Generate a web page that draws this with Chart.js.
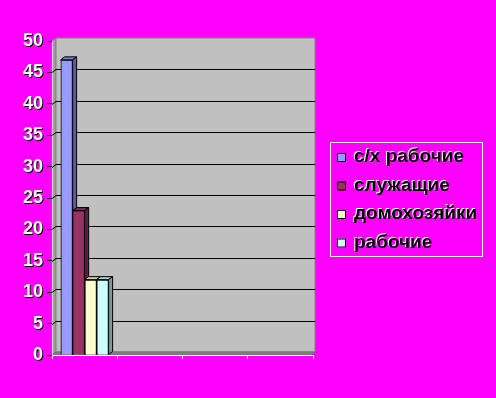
<!DOCTYPE html>
<html>
<head>
<meta charset="utf-8">
<script src="https://cdn.jsdelivr.net/npm/chart.js@4.4.0/dist/chart.umd.min.js"></script>
<style>
  html, body { margin: 0; padding: 0; background: #ff00ff; }
  canvas { display: block; }
</style>
</head>
<body>
<canvas id="chart" width="496" height="398"></canvas>
<script>
// Данные диаграммы
const categories = ['', '', '', ''];
const seriesNames = ['с/х рабочие', 'служащие', 'домохозяйки', 'рабочие'];
const seriesValues = [
    [47, null, null, null],
    [23, null, null, null],
    [12, null, null, null],
    [12, null, null, null]
];
const seriesColors = ['#9999ff', '#993366', '#ffffcc', '#ccffff'];
const yTicks = [0, 5, 10, 15, 20, 25, 30, 35, 40, 45, 50];

const DX = 4, DY = 3;
const FONT = 'bold 18px "Liberation Sans", Arial, sans-serif';
const LEGEND_FONT = 'bold 19px "Liberation Sans", Arial, sans-serif';

function shade(hex, k) {
    const n = parseInt(hex.slice(1), 16);
    const r = Math.round(((n >> 16) & 255) * k);
    const g = Math.round(((n >> 8) & 255) * k);
    const b = Math.round((n & 255) * k);
    return `rgb(${r},${g},${b})`;
}

function poly(ctx, pts, fill, stroke) {
    ctx.beginPath();
    ctx.moveTo(pts[0][0], pts[0][1]);
    for (let i = 1; i < pts.length; i++) ctx.lineTo(pts[i][0], pts[i][1]);
    ctx.closePath();
    ctx.fillStyle = fill;
    ctx.fill();
    if (stroke) {
        ctx.strokeStyle = stroke;
        ctx.lineWidth = 1;
        ctx.stroke();
    }
}

// Фон, стенки, сетка, объём столбиков, подписи и легенда
const wallsPlugin = {
    id: 'walls',
    beforeDraw(chart) {
        const ctx = chart.ctx;
        const a = chart.chartArea;
        ctx.save();
        ctx.fillStyle = '#ff00ff';
        ctx.fillRect(0, 0, chart.width, chart.height);
        // боковая стенка
        poly(ctx, [[a.left, a.top], [a.left + DX, a.top - DY], [a.left + DX, a.bottom - DY], [a.left, a.bottom]], '#a0a0a0', '#808080');
        // задняя стенка
        poly(ctx, [[a.left + DX, a.top - DY], [a.right + 2, a.top - DY], [a.right + 2, a.bottom - DY], [a.left + DX, a.bottom - DY]], '#c0c0c0', '#808080');
        // пол
        poly(ctx, [[a.left, a.bottom], [a.left + DX, a.bottom - DY], [a.right + 2, a.bottom - DY], [a.right - 2, a.bottom]], '#808080', '#707070');
        ctx.restore();
    },
    beforeDatasetsDraw(chart) {
        const ctx = chart.ctx;
        const a = chart.chartArea;
        const y = chart.scales.y;
        ctx.save();
        ctx.strokeStyle = '#000';
        ctx.lineWidth = 1;
        yTicks.forEach(v => {
            if (v === 0 || v === 50) return;
            const py = Math.round(y.getPixelForValue(v)) + 0.5;
            ctx.beginPath();
            ctx.moveTo(a.left, py);
            ctx.lineTo(a.left + DX, py - DY);
            ctx.lineTo(a.right + 2, py - DY);
            ctx.stroke();
        });
        ctx.restore();
    },
    // слева направо: передняя грань, верх, бок — правый столбик перекрывает левый
    afterDatasetsDraw(chart) {
        const ctx = chart.ctx;
        ctx.save();
        seriesValues.forEach((values, i) => {
            const meta = chart.getDatasetMeta(i);
            const color = seriesColors[i];
            meta.data.forEach((bar, j) => {
                if (values[j] == null) return;
                bar.draw(ctx, chart.chartArea);
                const l = bar.x - bar.width / 2;
                const r = bar.x + bar.width / 2;
                poly(ctx, [[l, bar.y], [l + DX, bar.y - DY], [r + DX, bar.y - DY], [r, bar.y]], shade(color, 0.8), '#000');
                poly(ctx, [[r, bar.y], [r + DX, bar.y - DY], [r + DX, bar.base - DY], [r, bar.base]], shade(color, 0.6), '#000');
            });
        });
        ctx.restore();
    },
    afterDraw(chart) {
        const ctx = chart.ctx;
        const y = chart.scales.y;
        ctx.save();
        ctx.font = FONT;
        ctx.textAlign = 'right';
        ctx.textBaseline = 'middle';
        // подписи оси Y: белые с чёрной тенью
        yTicks.forEach(v => {
            const py = y.getPixelForValue(v);
            ctx.fillStyle = '#000';
            ctx.fillText(String(v), 44, py + 1);
            ctx.fillStyle = '#fff';
            ctx.fillText(String(v), 43, py);
        });
        // легенда
        ctx.strokeStyle = '#fff';
        ctx.lineWidth = 1;
        ctx.strokeRect(330.5, 142.5, 152, 114);
        ctx.font = LEGEND_FONT;
        ctx.textAlign = 'left';
        seriesNames.forEach((name, i) => {
            const cy = 157 + i * 28.5;
            ctx.fillStyle = seriesColors[i];
            ctx.fillRect(337, cy - 4, 9, 9);
            ctx.strokeStyle = '#000';
            ctx.strokeRect(337.5, cy - 3.5, 8, 8);
            ctx.fillStyle = '#fff';
            ctx.fillText(name, 353, cy - 1);
            ctx.fillStyle = '#000';
            ctx.fillText(name, 354, cy);
        });
        ctx.restore();
    }
};

new Chart(document.getElementById('chart'), {
    type: 'bar',
    data: {
        labels: categories,
        datasets: seriesNames.map((name, i) => ({
            label: name,
            data: seriesValues[i],
            backgroundColor: seriesColors[i],
            borderColor: '#000',
            borderWidth: 1,
            barPercentage: 1,
            categoryPercentage: 0.735
        }))
    },
    options: {
        responsive: false,
        animation: false,
        layout: { padding: { top: 41, right: 183, bottom: 0, left: 0 } },
        plugins: {
            legend: { display: false },
            tooltip: { enabled: false }
        },
        scales: {
            x: {
                afterFit: scale => { scale.height = 43; },
                ticks: { display: false },
                grid: { color: 'rgba(0,0,0,0)', tickColor: '#fff', tickLength: 4, offset: true },
                border: { color: '#fff' }
            },
            y: {
                min: 0,
                max: 50,
                afterFit: scale => { scale.width = 52; },
                ticks: { display: false, stepSize: 5 },
                grid: { color: 'rgba(0,0,0,0)', tickColor: '#000', tickLength: 5 },
                border: { color: '#d0d0d0' }
            }
        }
    },
    plugins: [wallsPlugin]
});
</script>
</body>
</html>
